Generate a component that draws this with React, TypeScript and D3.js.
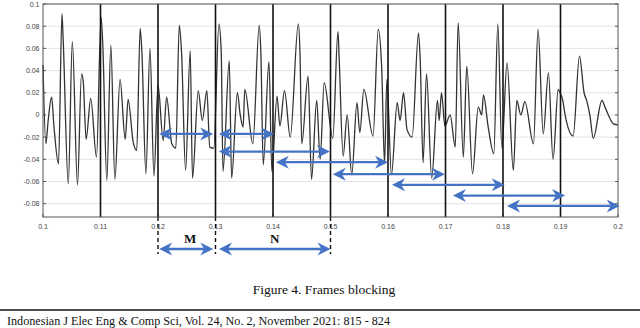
import React from 'react'
import * as d3 from 'd3'

// speech frame (seconds) and amplitude
const times = [
  0.1000, 0.1005, 0.1009, 0.1015, 0.1019, 0.1027, 0.1033, 0.1035, 0.1044, 0.1051,
  0.1060, 0.1067, 0.1070, 0.1075, 0.1083, 0.1093, 0.1101, 0.1104, 0.1111, 0.1118,
  0.1125, 0.1134, 0.1143, 0.1148, 0.1157, 0.1163, 0.1169, 0.1172, 0.1179, 0.1186,
  0.1193, 0.1200, 0.1209, 0.1215, 0.1224, 0.1231, 0.1237, 0.1241, 0.1248, 0.1256,
  0.1260, 0.1270, 0.1277, 0.1285, 0.1290, 0.1297, 0.1306, 0.1310, 0.1313, 0.1324,
  0.1328, 0.1338, 0.1343, 0.1348, 0.1351, 0.1365, 0.1376, 0.1379, 0.1383, 0.1393,
  0.1398, 0.1407, 0.1412, 0.1420, 0.1430, 0.1444, 0.1447, 0.1450, 0.1461, 0.1467,
  0.1476, 0.1482, 0.1489, 0.1504, 0.1513, 0.1515, 0.1522, 0.1529, 0.1537, 0.1546,
  0.1551, 0.1558, 0.1574, 0.1583, 0.1589, 0.1594, 0.1598, 0.1606, 0.1616, 0.1621,
  0.1627, 0.1633, 0.1642, 0.1653, 0.1656, 0.1661, 0.1667, 0.1676, 0.1686, 0.1689,
  0.1693, 0.1699, 0.1708, 0.1717, 0.1722, 0.1731, 0.1737, 0.1747, 0.1757, 0.1763,
  0.1766, 0.1774, 0.1784, 0.1791, 0.1798, 0.1807, 0.1818, 0.1824, 0.1831, 0.1838,
  0.1853, 0.1861, 0.1870, 0.1879, 0.1887, 0.1896, 0.1899, 0.1904, 0.1908, 0.1922,
  0.1933, 0.1941, 0.1946, 0.1951, 0.1957, 0.1972, 0.1979, 0.1992, 0.2000,
]
const amplitude = [
  0.045, -0.026, -0.005, 0.016, -0.010, -0.044, 0.091, 0.069, -0.062, 0.066,
  -0.063, 0.037, 0.030, -0.022, 0.015, -0.038, 0.088, 0.063, -0.059, 0.063,
  -0.058, 0.032, -0.022, 0.014, -0.025, -0.032, 0.078, 0.056, -0.053, 0.060,
  -0.055, 0.027, -0.023, 0.016, -0.026, -0.030, 0.081, 0.056, -0.050, 0.058,
  -0.057, 0.022, -0.005, 0.022, -0.029, -0.030, 0.082, 0.056, -0.051, 0.049,
  -0.057, 0.020, 0.000, -0.011, 0.023, -0.026, 0.081, 0.054, -0.045, 0.048,
  -0.051, 0.017, -0.010, 0.022, -0.020, 0.082, 0.054, -0.026, 0.035, -0.058,
  0.013, -0.040, 0.029, -0.021, 0.075, 0.052, -0.037, 0.000, -0.054, 0.011,
  -0.016, 0.023, -0.019, 0.077, 0.043, -0.044, 0.032, -0.054, 0.011, -0.005,
  0.020, -0.013, -0.020, 0.074, 0.050, -0.043, 0.037, -0.057, 0.013, -0.005,
  0.020, -0.010, 0.000, -0.029, 0.083, -0.038, 0.044, -0.053, 0.007, 0.000,
  0.018, -0.010, -0.035, 0.082, -0.030, 0.047, -0.050, 0.013, 0.000, 0.012,
  -0.026, 0.077, -0.017, 0.038, -0.040, 0.023, 0.020, 0.013, 0.000, -0.019,
  0.053, 0.020, 0.012, 0.000, -0.021, 0.013, 0.005, -0.008, -0.009,
]

const xTicks = [0.1, 0.11, 0.12, 0.13, 0.14, 0.15, 0.16, 0.17, 0.18, 0.19, 0.2]
const yTicks = [-0.08, -0.06, -0.04, -0.02, 0, 0.02, 0.04, 0.06, 0.08, 0.1]
const frameLines = [0.11, 0.12, 0.13, 0.14, 0.15, 0.16, 0.17, 0.18, 0.19]
const dashedLines = [0.12, 0.13, 0.15]

// overlapping frames (double arrows)
const frameStart = [0.1202, 0.1306, 0.1306, 0.1405, 0.1504, 0.1607, 0.1713, 0.1807]
const frameEnd = [0.1296, 0.1402, 0.1499, 0.16, 0.1699, 0.1803, 0.1908, 0.2003]
const frameLevel = [-0.0171, -0.0171, -0.033, -0.0426, -0.0534, -0.063, -0.0727, -0.082]

const spanLabels = ['M', 'N']
const spanStart = [0.1202, 0.1306]
const spanEnd = [0.1296, 0.15]

const BLUE = '#4472c4'

function head(tx: number, ty: number, dir: number) {
  const L = 13, W = 6.5, notch = 4
  return `M${tx},${ty}L${tx - dir * L},${ty - W}L${tx - dir * (L - notch)},${ty}L${tx - dir * L},${ty + W}Z`
}

function DoubleArrow({ x0, x1, y }: { x0: number; x1: number; y: number }) {
  return (
    <g>
      <line x1={x0 + 9} x2={x1 - 9} y1={y} y2={y} stroke={BLUE} strokeWidth={2.3} />
      <path d={head(x0, y, -1)} fill={BLUE} />
      <path d={head(x1, y, 1)} fill={BLUE} />
    </g>
  )
}

export default function App() {
  const left = 43, right = 618, top = 4, bottom = 217
  const x = d3.scaleLinear().domain([0.1, 0.2]).range([left, right])
  const y = d3.scaleLinear().domain([-0.092, 0.1]).range([bottom, top])

  const pts: [number, number][] = times.map((t, i) => [t, amplitude[i]])
  const line = d3.line<[number, number]>()
    .x(d => x(d[0]))
    .y(d => y(d[1]))
    .curve(d3.curveMonotoneX)

  const tickFont = { fontFamily: 'Liberation Sans, Arial, sans-serif', fontSize: 7, fill: '#444' }
  const spanY = 249

  return (
    <svg width={640} height={328} style={{ position: 'absolute', left: 0, top: 0, background: '#fff' }}>
      {yTicks.map(t => (
        <g key={'y' + t}>
          <line x1={left} x2={right} y1={y(t)} y2={y(t)} stroke="#e4e4e4" strokeWidth={1} />
          <line x1={left} x2={left + 3} y1={y(t)} y2={y(t)} stroke="#555" />
          <line x1={right - 3} x2={right} y1={y(t)} y2={y(t)} stroke="#555" />
          <text x={39.5} y={y(t) + 2.5} textAnchor="end" {...tickFont}>{t}</text>
        </g>
      ))}
      {xTicks.map(t => (
        <g key={'x' + t}>
          <line x1={x(t)} x2={x(t)} y1={bottom} y2={bottom - 3} stroke="#555" />
          <text x={x(t)} y={229} textAnchor="middle" {...tickFont}>{t}</text>
        </g>
      ))}
      <path d={line(pts) ?? ''} fill="none" stroke="#333" strokeWidth={1.3} strokeLinejoin="round" />
      {frameLines.map(t => (
        <line key={'f' + t} x1={x(t)} x2={x(t)} y1={top} y2={bottom} stroke="#111" strokeWidth={1.6} />
      ))}
      <rect x={left} y={top} width={right - left} height={bottom - top} fill="none" stroke="#555" strokeWidth={1} />
      {dashedLines.map(t => (
        <line key={'d' + t} x1={x(t)} x2={x(t)} y1={bottom} y2={254} stroke="#111" strokeWidth={1.4} strokeDasharray="4,3" />
      ))}
      {frameStart.map((s, i) => (
        <DoubleArrow key={'a' + i} x0={x(s)} x1={x(frameEnd[i])} y={y(frameLevel[i])} />
      ))}
      {spanLabels.map((lab, i) => (
        <g key={lab}>
          <DoubleArrow x0={x(spanStart[i])} x1={x(spanEnd[i])} y={spanY} />
          <text x={(x(spanStart[i]) + x(spanEnd[i])) / 2 + (i === 0 ? 4 : 0)} y={243}
            textAnchor="middle" fontFamily="Liberation Serif, Times New Roman, serif"
            fontWeight="bold" fontSize={13} fill="#111">{lab}</text>
        </g>
      ))}
      <text x={324} y={294} textAnchor="middle" fontFamily="Liberation Serif, Times New Roman, serif"
        fontSize={13.5} fill="#111">Figure 4. Frames blocking</text>
      <line x1={0} x2={640} y1={310} y2={310} stroke="#111" strokeWidth={1.4} />
      <text x={7} y={325} fontFamily="Liberation Serif, Times New Roman, serif" fontSize={13} fill="#111"
        textLength={383} lengthAdjust="spacingAndGlyphs">
        Indonesian J Elec Eng &amp; Comp Sci, Vol. 24, No. 2, November 2021: 815 - 824
      </text>
    </svg>
  )
}
